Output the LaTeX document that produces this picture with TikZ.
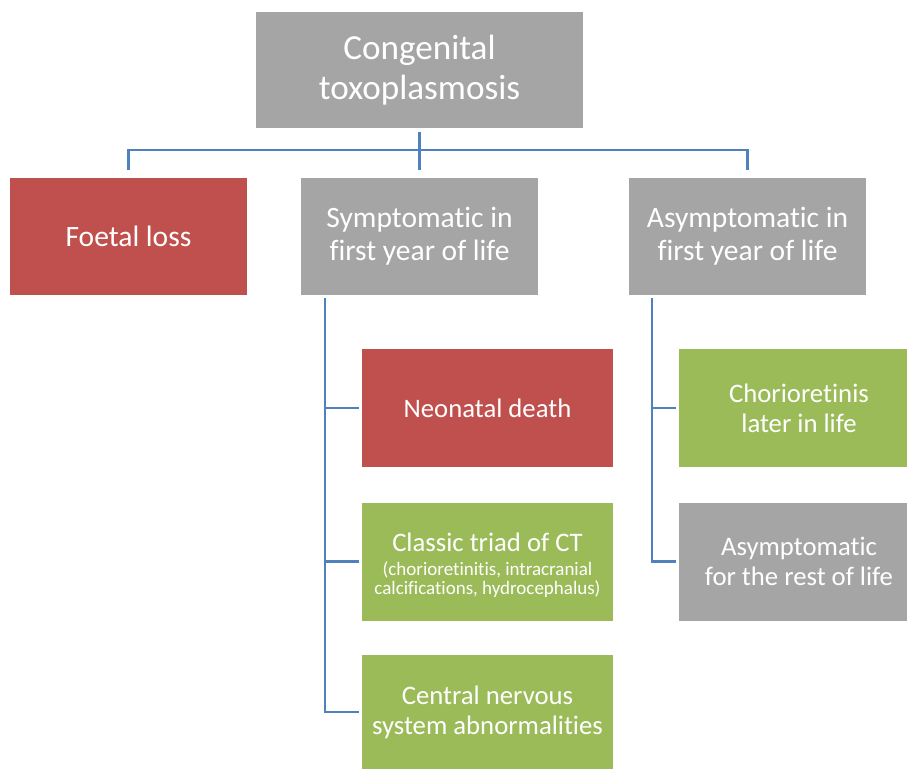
\documentclass[tikz,border=0pt]{standalone}
\usepackage{fontspec}
\setmainfont{Carlito}[Ligatures=CommonOff]
\definecolor{boxgray}{HTML}{A5A5A5}
\definecolor{boxred}{HTML}{C0504D}
\definecolor{boxgreen}{HTML}{9BBB59}
\definecolor{linkblue}{HTML}{4F81BD}
\newcommand\px{0.025cm}
\begin{document}
\begin{tikzpicture}[x=0.025cm, y=-0.025cm,
    box/.style={shape=rectangle, inner sep=0pt, align=center, text=white,
      font=\fontsize{19}{21.5}\selectfont},
    upper/.style={box, minimum width=237*\px, minimum height=117*\px,
      font=\fontsize{21}{23.5}\selectfont},
    lower/.style={box, minimum width=251*\px, minimum height=118*\px},
    link/.style={draw=linkblue, line width=2pt}]
  \useasboundingbox (0,0) rectangle (907,769);

  \node[box, fill=boxgray, minimum width=327*\px, minimum height=116*\px,
    font=\fontsize{25}{28.4}\selectfont] (top) at (419.5,70) {Congenital\\toxoplasmosis};

  \node[upper, fill=boxred] (foetal) at (128.5,236.5) {Foetal loss};
  \node[upper, fill=boxgray] (symp) at (419.5,236.5) {Symptomatic in\\first year of life};
  \node[upper, fill=boxgray] (asymp) at (747.5,236.5) {Asymptomatic in\\first year of life};

  \node[lower, fill=boxred] (neonatal) at (487.5,408) {Neonatal death};
  \node[lower, fill=boxgreen] (classic) at (487.5,561.5)
    {\rule{0pt}{20pt}Classic triad of CT\\[-5pt]\fontsize{13.5}{12}\selectfont
     \begin{tabular}[t]{@{}c@{}}(chorioretinitis, intracranial\\calcifications, hydrocephalus)\end{tabular}};
  \node[lower, fill=boxgreen, minimum height=114*\px] (cns) at (487.5,712)
    {Central nervous\\system abnormalities};

  \node[lower, fill=boxgreen, minimum width=240*\px] (chorio) at (799,408) {Chorioretinis\\later in life};
  \node[lower, fill=boxgray, minimum width=240*\px] (rest) at (799,561.5) {Asymptomatic\\for the rest of life};

  \coordinate (hub) at (419.5,150);
  \coordinate (sspine) at (325,298);
  \coordinate (aspine) at (652,298);

  \draw[link, shorten <=2.8pt, shorten >=5.7pt] (top) -- (symp);
  \foreach \n in {foetal,asymp}{%
    \draw[link, shorten >=5.7pt] (hub) -| (\n);
  }
  \foreach \n in {neonatal,classic,cns}{%
    \draw[link, shorten >=2pt] (sspine) |- (\n);
  }
  \foreach \n in {chorio,rest}{%
    \draw[link, shorten >=2pt] (aspine) |- (\n);
  }
\end{tikzpicture}
\end{document}
